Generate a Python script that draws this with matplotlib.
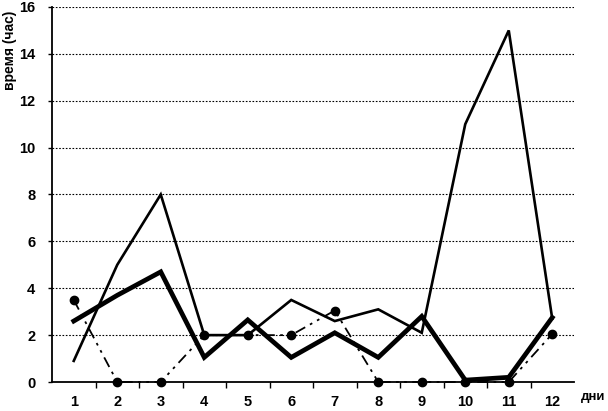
import numpy as np
import matplotlib
matplotlib.use("Agg")
import matplotlib.pyplot as plt
from matplotlib.ticker import FixedLocator

plt.rcParams["font.family"] = ["Liberation Sans", "DejaVu Sans"]

days = [1, 2, 3, 4, 5, 6, 7, 8, 9, 10, 11, 12]
thin_series = [0.9, 5.0, 8.0, 2.0, 2.0, 3.5, 2.6, 3.1, 2.1, 11.0, 15.0, 2.7]
thick_series = [2.6, 3.7, 4.7, 1.05, 2.65, 1.05, 2.1, 1.05, 2.8, 0.08, 0.2, 2.75]
dotted_series = [3.5, 0.0, 0.0, 2.0, 2.0, 2.0, 3.05, 0.0, 0.0, 0.0, 0.0, 2.05]

Y_TICKS = [0, 2, 4, 6, 8, 10, 12, 14, 16]
Y_LABEL = "время (час)"
X_LABEL = "дни"

fig = plt.figure(figsize=(6.08, 4.11), dpi=100)
ax = fig.add_axes([52 / 608, 29 / 411, 522 / 608, 375 / 411])

# gridlines first so the series sit on top
for y in Y_TICKS[1:]:
    ax.axhline(y, color="black", linewidth=0.8, linestyle=(0, (1.5, 1.5)), zorder=1)

ax.plot(days, thin_series, color="black", linewidth=1.9, zorder=3,
        solid_joinstyle="miter", clip_on=False)
ax.plot(days, thick_series, color="black", linewidth=3.4, zorder=4,
        solid_joinstyle="miter", clip_on=False)
ax.plot(days, dotted_series, color="black", linewidth=1.3, zorder=2,
        linestyle=(0, (6, 3, 1.5, 3, 1.5, 3)), clip_on=False,
        marker="o", markersize=6, markerfacecolor="black", markeredgecolor="black")

ax.set_xlim(0.5, 12.5)
ax.set_ylim(0, 16)

ax.spines["top"].set_visible(False)
ax.spines["right"].set_visible(False)
ax.spines["left"].set_linewidth(1.3)
ax.spines["bottom"].set_linewidth(1.3)

ax.set_xticks(days)
ax.set_xticklabels([str(d) for d in days], fontsize=10.5, fontweight="bold")
ax.xaxis.set_minor_locator(FixedLocator(np.arange(1.5, 12.5, 1.0)))
ax.tick_params(axis="x", which="major", length=0, pad=9)
ax.tick_params(axis="x", which="minor", length=4, width=1, direction="out")

ax.set_yticks(Y_TICKS)
ax.set_yticklabels([str(y) for y in Y_TICKS], fontsize=10.5, fontweight="bold")
ax.tick_params(axis="y", which="major", length=3, width=1, direction="out", pad=9)

fig.text(10 / 608, 1 - 50 / 411, Y_LABEL, rotation=90, fontsize=10,
         fontweight="bold", ha="center", va="center")
fig.text(605 / 608, 1 - 397 / 411, X_LABEL, fontsize=9.5,
         fontweight="bold", ha="right", va="center")

fig.savefig("out.png", dpi=100)
